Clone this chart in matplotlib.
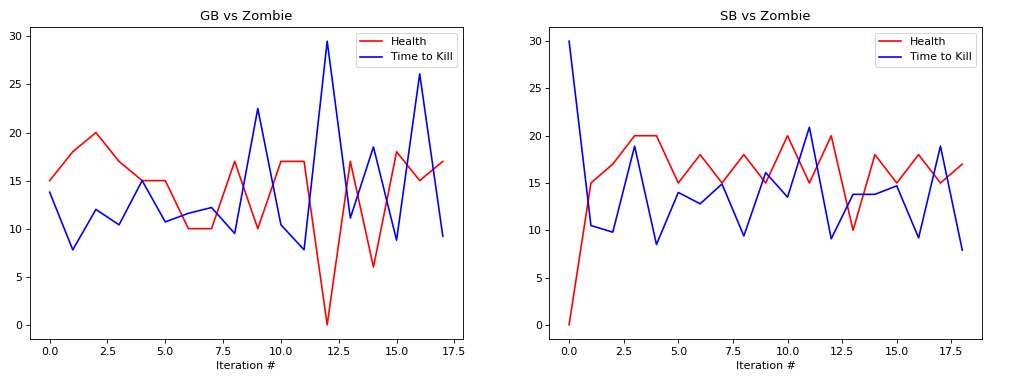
import matplotlib
matplotlib.use('Agg')
import matplotlib.pyplot as plt

# GB vs Zombie
gb_health = [15, 18, 20, 17, 15, 15, 10, 10, 17, 10, 17, 17, 0, 17, 6, 18, 15, 17]
gb_ttk = [13.8, 7.8, 12.0, 10.4, 15.0, 10.7, 11.6, 12.2, 9.5, 22.5, 10.4, 7.8,
          29.5, 11.1, 18.5, 8.8, 26.1, 9.2]

# SB vs Zombie
sb_health = [0, 15, 17, 20, 20, 15, 18, 15, 18, 15, 20, 15, 20, 10, 18, 15, 18, 15, 17]
sb_ttk = [30.0, 10.5, 9.8, 18.9, 8.5, 14.0, 12.8, 14.9, 9.4, 16.1, 13.5, 20.9,
          9.1, 13.8, 13.8, 14.7, 9.2, 18.9, 7.9]

dpi = 79
fig, (graph, graph2) = plt.subplots(1, 2, figsize=(1020/dpi, 386/dpi), dpi=dpi)
fig.subplots_adjust(left=0.0294, right=0.9627, top=0.930, bottom=0.1218, wspace=0.201)

graph.plot(range(len(gb_health)), gb_health, color='red', label='Health')
graph.plot(range(len(gb_ttk)), gb_ttk, color='blue', label='Time to Kill')
graph.set_title('GB vs Zombie')
graph.set_xlabel('Iteration #')
graph.legend(loc='upper right')

graph2.plot(range(len(sb_health)), sb_health, color='red', label='Health')
graph2.plot(range(len(sb_ttk)), sb_ttk, color='blue', label='Time to Kill')
graph2.set_title('SB vs Zombie')
graph2.set_xlabel('Iteration #')
graph2.legend(loc='upper right')

fig.savefig('out.png', dpi=dpi)
